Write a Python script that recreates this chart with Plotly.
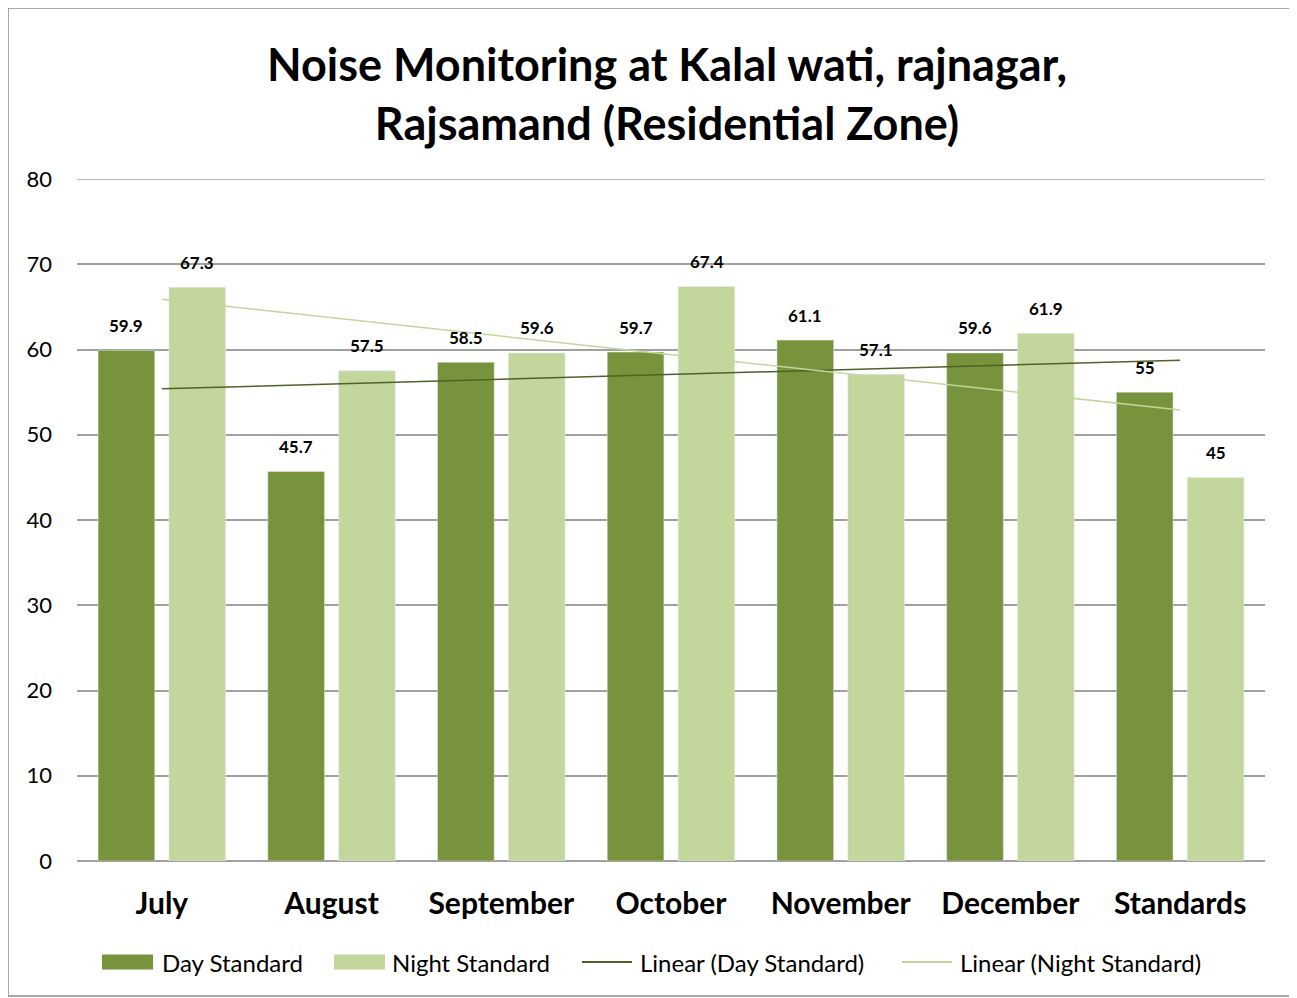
import numpy as np
import plotly.graph_objects as go

categories = ["July", "August", "September", "October", "November", "December", "Standards"]
day_values = [59.9, 45.7, 58.5, 59.7, 61.1, 59.6, 55]
night_values = [67.3, 57.5, 59.6, 67.4, 57.1, 61.9, 45]
y_ticks = [0, 10, 20, 30, 40, 50, 60, 70, 80]
series_names = ["Day Standard", "Night Standard", "Linear (Day Standard)", "Linear (Night Standard)"]

xs = np.arange(1, len(categories) + 1)
day_fit = np.polyval(np.polyfit(xs, day_values, 1), xs)
night_fit = np.polyval(np.polyfit(xs, night_values, 1), xs)

FONT = "Lato"
DAY_C = "#77933C"
NIGHT_C = "#C3D69B"
TREND_DAY_C = "#4F6228"
TREND_NIGHT_C = "#C3D69B"
GRID_C = "#A0A0A0"

fig = go.Figure()
fig.add_trace(go.Bar(x=categories, y=day_values, name=series_names[0], marker_color=DAY_C))
fig.add_trace(go.Bar(x=categories, y=night_values, name=series_names[1], marker_color=NIGHT_C))
fig.add_trace(go.Scatter(
    x=categories, y=day_fit, mode="lines", name=series_names[2],
    line=dict(color=TREND_DAY_C, width=1.5),
))
fig.add_trace(go.Scatter(
    x=categories, y=night_fit, mode="lines", name=series_names[3],
    line=dict(color=TREND_NIGHT_C, width=1.5),
))

# figure is shifted 8px by the page margin, so compensate
OFF = 8
W, H = 1297 - OFF, 998 - OFF
L, R, T, B = 77 - OFF, 32, 179 - OFF, 137
pw, ph = W - L - R, H - T - B

def px_x(x):
    return (x - OFF - L) / pw

def px_y(y):
    return (H - B - (y - OFF)) / ph

annotations = []
for cat, dv, nv in zip(categories, day_values, night_values):
    for v, sh in ((dv, -35.5), (nv, 35.5)):
        annotations.append(dict(
            x=cat, y=v, xref="x", yref="y", text=f"<b>{v:g}</b>", showarrow=False,
            xshift=sh, yshift=25, yanchor="middle", xanchor="center",
            font=dict(family=FONT, size=17, color="#000000"),
        ))

shapes = [
    dict(
        type="rect", xref="paper", yref="paper",
        x0=px_x(8), x1=px_x(1293), y0=px_y(996), y1=px_y(8),
        line=dict(color="#8C8C8C", width=1.5), fillcolor="rgba(0,0,0,0)", layer="below",
    ),
    dict(
        type="line", xref="paper", yref="y", x0=0, x1=1, y0=y_ticks[-1], y1=y_ticks[-1],
        line=dict(color=GRID_C, width=1.5), layer="below",
    ),
]

# custom legend (wide swatches like the original)
LEG_Y = 962
legend_items = [
    ("rect", DAY_C, 102, 153, 160),
    ("rect", NIGHT_C, 334, 385, 390),
    ("line", TREND_DAY_C, 582, 632, 638),
    ("line", TREND_NIGHT_C, 902, 952, 958),
]
for name, (kind, col, x0, x1, tx) in zip(series_names, legend_items):
    if kind == "rect":
        shapes.append(dict(
            type="rect", xref="paper", yref="paper",
            x0=px_x(x0), x1=px_x(x1), y0=px_y(LEG_Y + 7.5), y1=px_y(LEG_Y - 7.5),
            fillcolor=col, line=dict(width=0),
        ))
    else:
        shapes.append(dict(
            type="line", xref="paper", yref="paper",
            x0=px_x(x0), x1=px_x(x1), y0=px_y(LEG_Y), y1=px_y(LEG_Y),
            line=dict(color=col, width=2),
        ))
    annotations.append(dict(
        xref="paper", yref="paper", x=px_x(tx), y=px_y(LEG_Y), text=name,
        showarrow=False, xanchor="left", yanchor="middle",
        font=dict(family=FONT, size=24, color="#000000"),
    ))

fig.update_layout(
    width=W, height=H,
    margin=dict(l=L, r=R, t=T, b=B),
    paper_bgcolor="white", plot_bgcolor="white",
    barmode="group", bargap=0.165, bargroupgap=0.2,
    font=dict(family=FONT, color="#000000"),
    title=dict(
        text="<b>Noise Monitoring at Kalal wati, rajnagar,<br>Rajsamand (Residential Zone)</b>",
        x=(667 - OFF) / W, xanchor="center", y=1 - (81 - OFF) / H, yanchor="middle",
        font=dict(family=FONT, size=45, color="#000000"),
    ),
    showlegend=False,
    xaxis=dict(
        tickfont=dict(family=FONT, size=30, color="#000000"),
        showline=False, ticks="", showgrid=False, ticklabelstandoff=22,
        tickprefix="<b>", ticksuffix="</b>",
    ),
    yaxis=dict(
        range=[0, 80], tickvals=y_ticks, showgrid=True, gridcolor=GRID_C, gridwidth=1.5,
        zeroline=True, zerolinecolor=GRID_C, zerolinewidth=1.5,
        tickfont=dict(family=FONT, size=22, color="#000000"),
        ticks="", ticklabelstandoff=24, showline=False,
    ),
    annotations=annotations,
    shapes=shapes,
)

fig.write_html("out.html")
